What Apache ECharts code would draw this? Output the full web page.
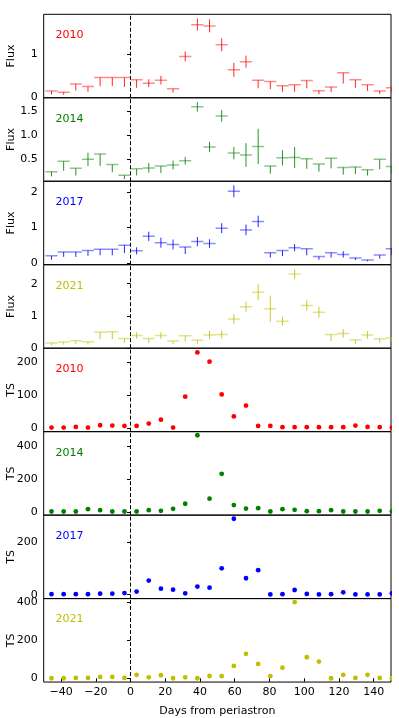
<!DOCTYPE html>
<html>
<head>
<meta charset="utf-8">
<title>Flux and TS around periastron</title>
<script src="https://cdn.jsdelivr.net/npm/echarts@6/dist/echarts.min.js"></script>
<style>
  html, body { margin: 0; padding: 0; background: #fff; }
  #main { width: 399px; height: 718px; }
</style>
</head>
<body>
<div id="main"></div>
<script>
// bin centres (days from periastron), 7-day bins
var days = [-45.5, -38.5, -31.5, -24.5, -17.5, -10.5, -3.5, 3.5, 10.5, 17.5, 24.5, 31.5, 38.5, 45.5,
  52.5, 59.5, 66.5, 73.5, 80.5, 87.5, 94.5, 101.5, 108.5, 115.5, 122.5, 129.5, 136.5, 143.5, 150.5];
var xTicks = [-40, -20, 0, 20, 40, 60, 80, 100, 120, 140];

// flux values with lower / upper error
var flux2010 = [0.15, 0.12, 0.31, 0.25, 0.46, 0.46, 0.46, 0.41, 0.33, 0.40, 0.20, 0.95, 1.69, 1.66, 1.22, 0.64, 0.83, 0.40, 0.37, 0.27, 0.29, 0.39, 0.155, 0.24, 0.57, 0.41, 0.29, 0.15, 0.22];
var lo2010   = [0.08, 0.06, 0.15, 0.12, 0.20, 0.20, 0.22, 0.19, 0.09, 0.10, 0.09, 0.115, 0.14, 0.15, 0.15, 0.16, 0.14, 0.19, 0.18, 0.14, 0.16, 0.18, 0.08, 0.12, 0.25, 0.19, 0.14, 0.07, 0.10];
var hi2010   = [0, 0, 0, 0, 0, 0, 0, 0, 0.09, 0.10, 0, 0.115, 0.14, 0.15, 0.15, 0.16, 0.14, 0, 0, 0, 0, 0, 0, 0, 0, 0, 0, 0, 0];

var flux2014 = [0.23, 0.45, 0.30, 0.49, 0.60, 0.38, 0.155, 0.29, 0.31, 0.35, 0.37, 0.46, 1.59, 0.75, 1.40, 0.62, 0.58, 0.76, 0.35, 0.52, 0.53, 0.50, 0.39, 0.51, 0.32, 0.33, 0.27, 0.49, 0.34];
var lo2014   = [0.10, 0.20, 0.15, 0.14, 0.25, 0.16, 0.08, 0.14, 0.10, 0.15, 0.09, 0.08, 0.10, 0.11, 0.12, 0.13, 0.25, 0.37, 0.16, 0.16, 0.22, 0.21, 0.16, 0.21, 0.15, 0.15, 0.12, 0.21, 0.15];
var hi2014   = [0, 0, 0, 0.14, 0, 0, 0, 0, 0.10, 0, 0.09, 0.08, 0.10, 0.11, 0.12, 0.13, 0.25, 0.37, 0, 0.16, 0.22, 0, 0, 0, 0, 0, 0, 0, 0];

var flux2017 = [0.20, 0.31, 0.31, 0.35, 0.385, 0.385, 0.50, 0.34, 0.75, 0.57, 0.52, 0.45, 0.60, 0.545, 0.98, 2.02, 0.93, 1.17, 0.29, 0.35, 0.43, 0.40, 0.18, 0.29, 0.24, 0.14, 0.085, 0.22, 0.40];
var lo2017   = [0.11, 0.14, 0.14, 0.15, 0.17, 0.17, 0.22, 0.10, 0.13, 0.14, 0.14, 0.20, 0.13, 0.12, 0.14, 0.17, 0.15, 0.16, 0.14, 0.16, 0.10, 0.19, 0.09, 0.14, 0.09, 0.06, 0.04, 0.10, 0.18];
var hi2017   = [0, 0, 0, 0, 0, 0, 0, 0.10, 0.13, 0.14, 0.14, 0, 0.13, 0.12, 0.14, 0.17, 0.15, 0.16, 0, 0, 0.10, 0, 0, 0, 0.09, 0, 0, 0, 0];

var flux2021 = [0.155, 0.18, 0.22, 0.19, 0.49, 0.50, 0.29, 0.385, 0.29, 0.385, 0.21, 0.375, 0.24, 0.40, 0.415, 0.90, 1.28, 1.73, 1.22, 0.83, 2.30, 1.32, 1.11, 0.415, 0.45, 0.25, 0.40, 0.28, 0.31];
var lo2021   = [0.07, 0.08, 0.10, 0.09, 0.22, 0.23, 0.14, 0.10, 0.14, 0.10, 0.10, 0.18, 0.11, 0.13, 0.13, 0.15, 0.16, 0.25, 0.41, 0.14, 0.15, 0.16, 0.17, 0.20, 0.13, 0.12, 0.12, 0.12, 0.14];
var hi2021   = [0, 0, 0, 0, 0, 0, 0, 0.10, 0, 0.10, 0, 0, 0, 0.13, 0.13, 0.15, 0.16, 0.25, 0.41, 0.14, 0.15, 0.16, 0.17, 0, 0.13, 0, 0.12, 0, 0];

// test statistic
var ts2010 = [1, 1, 3, 1, 8, 7, 6, 6, 13, 25, 1, 95, 230, 202, 102, 35, 68, 6, 6, 2, 2, 2, 2, 2, 2, 7, 3, 2, 1];
var ts2014 = [4, 4, 4, 18, 12, 4, 4, 4, 12, 8, 20, 51, 467, 82, 233, 43, 22, 24, 4, 18, 14, 6, 6, 12, 4, 4, 4, 8, 4];
var ts2017 = [2, 2, 2, 2, 4, 4, 6, 12, 54, 23, 19, 5, 31, 27, 101, 291, 63, 94, 1, 2, 18, 3, 1, 2, 9, 1, 1, 1, 5];
var ts2021 = [0, 0, 2, 2, 7, 7, 2, 18, 5, 16, 0, 5, 0, 12, 11, 65, 129, 76, 11, 56, 402, 111, 88, 0, 18, 2, 18, 2, 0];

var yrs = ['2010', '2014', '2017', '2021'];
var colors = ['#ff0000', '#008000', '#0000ff', '#bfbf00'];

var panels = [
  { name: 'Flux', y: flux2010, lo: lo2010, hi: hi2010, min: -0.01, max: 1.93, ticks: [0, 1] },
  { name: 'Flux', y: flux2014, lo: lo2014, hi: hi2014, min: 0.03, max: 1.78, ticks: [0.5, 1.0, 1.5], dec: 1 },
  { name: 'Flux', y: flux2017, lo: lo2017, hi: hi2017, min: -0.05, max: 2.30, ticks: [0, 1, 2] },
  { name: 'Flux', y: flux2021, lo: lo2021, hi: hi2021, min: -0.01, max: 2.59, ticks: [0, 1, 2] },
  { name: 'TS', y: ts2010, min: -11.5, max: 243, ticks: [0, 100, 200] },
  { name: 'TS', y: ts2014, min: -18, max: 489, ticks: [0, 200, 400] },
  { name: 'TS', y: ts2017, min: -15, max: 305, ticks: [0, 200] },
  { name: 'TS', y: ts2021, min: -20, max: 421, ticks: [0, 200, 400] }
];

var FONT = 'DejaVu Sans';
var top0 = 14.3, ph = 83.47, left = 43.7, right = 8;

function renderErr(params, api) {
  var x = api.value(0), y = api.value(1), lo = api.value(2), hi = api.value(3);
  var l = api.coord([x - 3.5, y]), r = api.coord([x + 3.5, y]);
  var t = api.coord([x, y + hi]), b = api.coord([x, y - lo]);
  var c = api.visual('color');
  return {
    type: 'group',
    children: [
      { type: 'line', shape: { x1: l[0], y1: l[1], x2: r[0], y2: r[1] }, style: { stroke: c, lineWidth: 1.5, opacity: 0.45 } },
      { type: 'line', shape: { x1: t[0], y1: t[1], x2: b[0], y2: b[1] }, style: { stroke: c, lineWidth: 1, opacity: 0.85 } }
    ]
  };
}

function renderDot(params, api) {
  var p = api.coord([api.value(0), api.value(1)]);
  return { type: 'circle', shape: { cx: p[0], cy: p[1], r: 2.4 }, style: { fill: api.visual('color') } };
}

var grids = [], xAxes = [], yAxes = [], series = [], graphics = [];

panels.forEach(function (p, i) {
  var last = i === panels.length - 1;
  var yr = i % 4;
  var t = top0 + i * ph;
  grids.push({
    left: left, right: right, top: t, height: ph, show: true, borderColor: '#000', borderWidth: 1,
    containLabel: false, outerBoundsMode: 'none'
  });
  xAxes.push({
    gridIndex: i, type: 'value', min: -50, max: 150,
    splitLine: { show: false },
    axisLine: { show: false },
    axisTick: { show: last, customValues: xTicks, length: 3.5, lineStyle: { color: '#000' } },
    axisLabel: {
      show: last, customValues: xTicks, margin: 5, color: '#000', fontFamily: FONT, fontSize: 11,
      formatter: function (v) { return String(v).replace('-', '\u2212'); }
    },
    name: last ? 'Days from periastron' : '', nameLocation: 'middle', nameGap: 24,
    nameTextStyle: { color: '#000', fontFamily: FONT, fontSize: 11 }
  });
  yAxes.push({
    gridIndex: i, type: 'value', min: p.min, max: p.max,
    splitLine: { show: false },
    axisLine: { show: false },
    axisTick: { customValues: p.ticks, length: 3.5, lineStyle: { color: '#000' } },
    axisLabel: {
      customValues: p.ticks, margin: 6, color: '#000', fontFamily: FONT, fontSize: 11,
      formatter: p.dec ? function (v) { return v.toFixed(1); } : function (v) { return String(v); }
    }
  });

  var data = days.map(function (d, k) {
    return p.lo ? [d, p.y[k], p.lo[k], p.hi[k]] : [d, p.y[k]];
  });
  series.push({
    type: 'custom', xAxisIndex: i, yAxisIndex: i, clip: true,
    renderItem: p.lo ? renderErr : renderDot,
    itemStyle: { color: colors[yr] },
    encode: { x: 0, y: 1 },
    data: data
  });
  // vertical dashed line at periastron
  series.push({
    type: 'line', xAxisIndex: i, yAxisIndex: i, data: [],
    markLine: {
      silent: true, symbol: 'none', label: { show: false },
      lineStyle: { color: '#000', type: [4, 2], width: 1 },
      data: [{ xAxis: 0 }]
    }
  });
  // y-axis title, rotated
  graphics.push({
    type: 'text', x: 11, y: t + ph / 2, rotation: Math.PI / 2,
    style: { text: p.name, fill: '#000', font: '11px "DejaVu Sans"', align: 'center', verticalAlign: 'middle' }
  });
  graphics.push({
    type: 'text', left: 55.5, top: t + 15.5,
    style: { text: yrs[yr], fill: colors[yr], font: '11px "DejaVu Sans"' }
  });
});

var chart = echarts.init(document.getElementById('main'));
chart.setOption({
  animation: false,
  backgroundColor: '#fff',
  grid: grids,
  xAxis: xAxes,
  yAxis: yAxes,
  series: series,
  graphic: graphics
});
</script>
</body>
</html>
